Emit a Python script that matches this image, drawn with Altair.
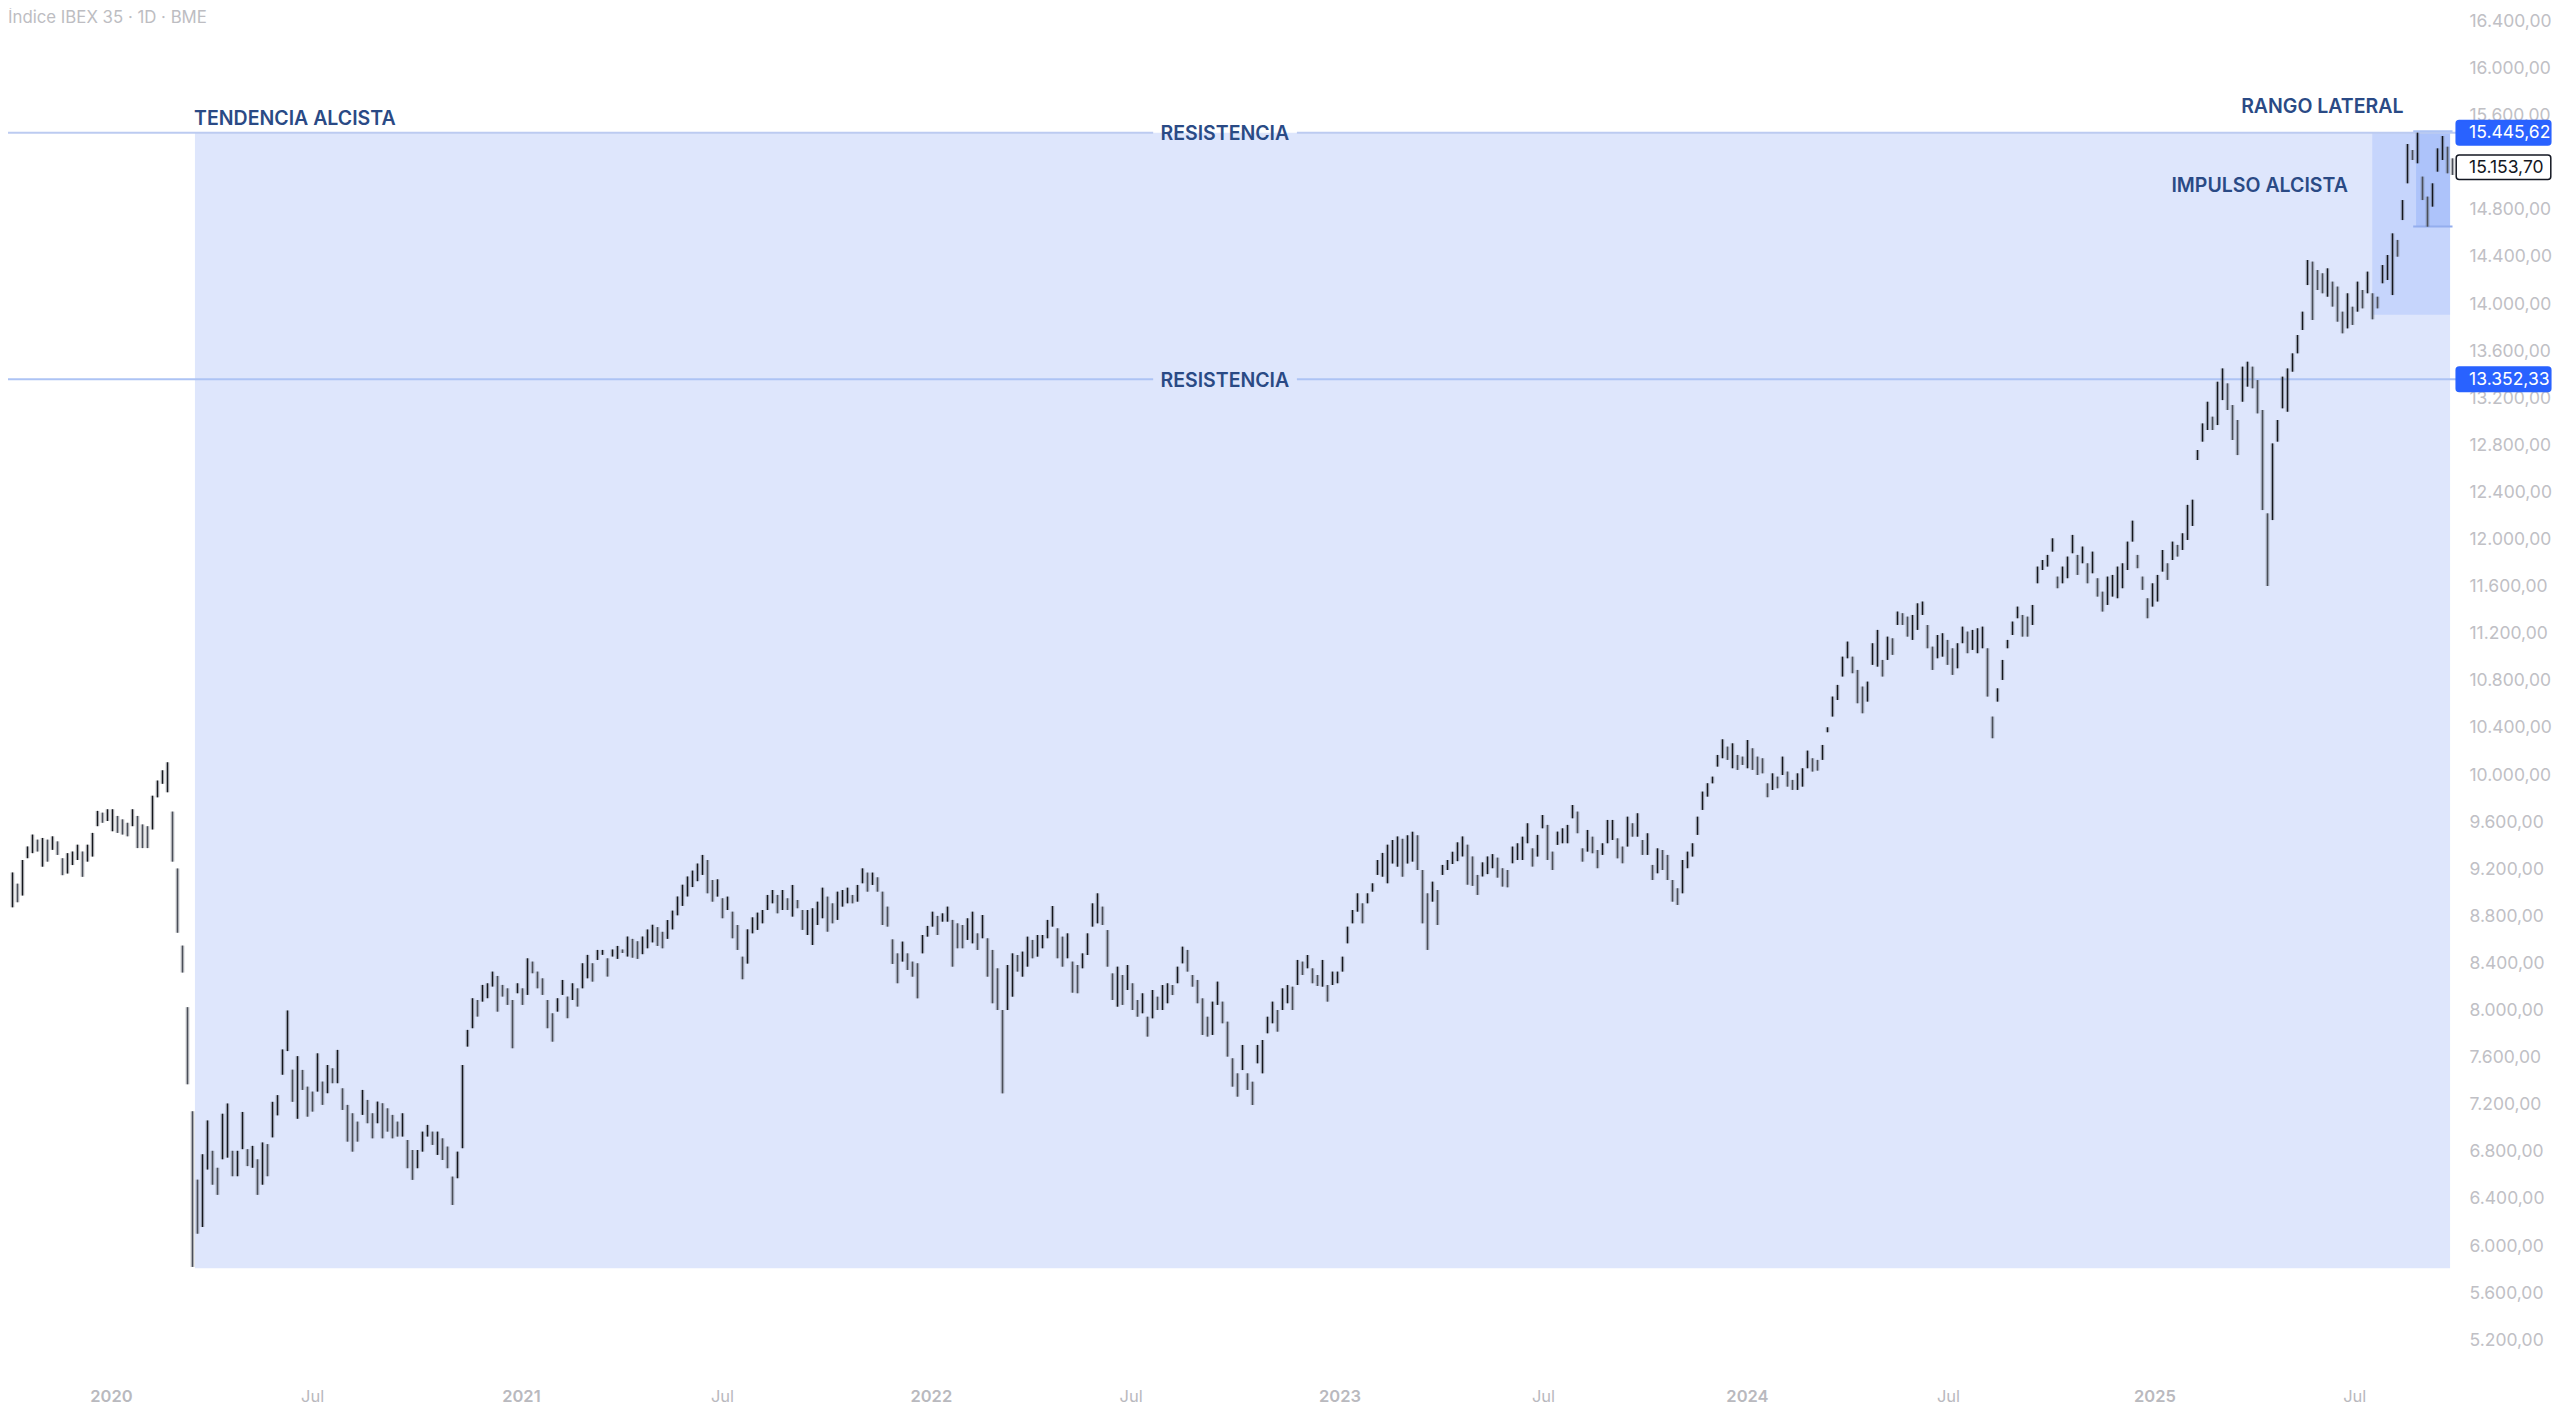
import altair as alt
import pandas as pd

# (high, low), one pair every ~3 sessions
bars_a = [(9164,8868),(9069,8911),(9270,8968),(9385,9285),(9486,9328),(9443,9342),(9457,9213),(9443,9256),
    (9471,9356),(9428,9313),(9285,9141),(9328,9155),(9342,9227),(9400,9270),(9342,9127),(9400,9256),(9500,9299),
    (9687,9557),(9672,9586),(9701,9601),(9701,9514),(9644,9500),(9615,9486),(9586,9471),(9701,9557),(9644,9371),
    (9572,9371),(9557,9371),(9816,9529),(9945,9802),(10032,9917),(10100,9845),(9681,9256),(9198,8652),(8543,8314),
    (8020,7365),(7136,5814),(6555,6096),(6771,6153),(7058,6641),(6800,6512),(6656,6426),(7115,6728),(7202,6742),
    (6800,6584),(6800,6584),(7130,6814),(6814,6670),(6842,6656),(6728,6426),(6871,6512),(6857,6584),(7216,6914),
    (7273,7101),(7661,7446),(7992,7647),(7489,7216),(7604,7072)]
bars_b = [(7487,7317),(7345,7090),(7303,7133),(7628,7303),(7388,7190),(7529,7289),(7501,7374),(7657,7374),
    (7331,7147),(7190,6878),(7119,6793),(7048,6878),(7317,7105),(7232,7034),(7119,6906),(7218,7034),(7204,6906),
    (7161,6963),(7105,6906),(7048,6921),(7119,6921),(6892,6652),(6807,6553),(6807,6652),(6963,6793),(7020,6921),
    (6963,6850),(6963,6765),(6906,6722),(6836,6652),(6581,6340),(6793,6567),(7529,6822),(7827,7685),(8096,7841),
    (8081,7940),(8209,8067),(8223,8096),(8322,8195),(8285,7982),(8209,8110),(8180,8039),(8081,7671),(8223,8138),
    (8180,8039),(8435,8124),(8407,8308),(8322,8180),(8265,8124),(8081,7841),(7968,7727),(8096,7982),(8251,8124),
    (8110,7926),(8223,8081),(8180,8025),(8393,8180),(8464,8265),(8393,8237),(8506,8421),(8506,8464),(8435,8280),
    (8510,8450),(8540,8430),(8510,8480)]
bars_c = [(8620,8450),(8600,8440),(8580,8430),(8620,8470),(8680,8520),(8720,8570),(8700,8540),(8660,8520),
    (8760,8600),(8840,8680),(8960,8800),(9060,8880),(9130,8960),(9180,9040),(9240,9090)]
bars_d = [(9313,9143),(9270,8987),(9100,8916),(9106,8959),(8945,8775),(8959,8845),(8831,8605),(8718,8506),
    (8449,8257),(8681,8390),(8783,8647),(8823,8676),(8845,8732),(8973,8845),(9015,8902),(8973,8817),(9015,8845),
    (8945,8845),(9058,8789),(8930,8860),(8845,8676),(8845,8633),(8860,8548),(8916,8718),(9035,8775),(8959,8661),
    (8902,8732),(9001,8761),(9015,8874),(9035,8902),(8973,8902),(9058,8916),(9199,9072),(9163,9001),(9163,9058),
    (9123,9001),(9001,8718),(8874,8704),(8596,8387),(8477,8223),(8577,8407),(8477,8336),(8407,8279),(8393,8095),
    (8633,8477),(8710,8619),(8831,8704),(8795,8633),(8817,8746),(8874,8746),(8761,8364),(8732,8520),(8718,8520),
    (8775,8591),(8831,8562),(8647,8506),(8803,8605),(8605,8279),(8506,8053),(8350,7996),(7996,7288),(8378,7996),
    (8477,8109),(8463,8322),(8492,8279),(8619,8364),(8591,8435),(8633,8449),(8633,8520),(8761,8605),(8879,8704),
    (8690,8435),(8619,8364),(8647,8435),(8407,8143),(8378,8138),(8477,8350),(8647,8463),(8902,8704),(8987,8732)]
bars_e = [(8874,8718),(8675,8364),(8307,8081),(8364,8024),(8293,8039),(8378,8166),(8223,7996),(8081,7939),
    (8138,7968),(7939,7770),(8166,7925),(8109,7996),(8208,7996),(8223,8053),(8208,8123),(8364,8223),(8534,8392),
    (8506,8322),(8293,8194),(8251,8053),(8095,7784),(7939,7770),(8067,7784),(8237,8039),(8067,7883),(7897,7600),
    (7586,7345),(7458,7260),(7699,7486),(7458,7317),(7387,7189),(7699,7543),(7741,7458),(7939,7798),(8067,7883),
    (7996,7812),(8180,7996),(8208,8053),(8194,7996),(8421,8208),(8407,8293),(8463,8350),(8350,8223),(8293,8200),
    (8421,8194),(8208,8067),(8322,8208),(8322,8223),(8449,8322),(8704,8562),(8845,8732),(8987,8831),(8902,8732),
    (8987,8902),(9072,9001),(9270,9143),(9330,9128),(9400,9072),(9440,9240),(9470,9213),(9450,9128),(9480,9240),
    (9510,9256),(9480,9185),(9185,8732),(8987,8506),(9086,8916),(9015,8718),(9228,9143),(9270,9185),(9340,9236),
    (9420,9260),(9470,9300),(9400,9060),(9300,9050),(9143,8973),(9250,9130),(9300,9150),(9320,9200),(9290,9120)]
bars_f = [(9200,9044),(9185,9038),(9384,9242),(9412,9270),(9468,9270),(9582,9412),(9369,9214),(9483,9299),
    (9652,9539),(9568,9270),(9341,9185),(9511,9398),(9539,9412),(9568,9412),(9737,9624),(9681,9497),(9369,9256),
    (9525,9341),(9468,9327),(9355,9200),(9412,9313),(9610,9412),(9610,9440),(9454,9284),(9384,9242),(9638,9384),
    (9582,9468),(9667,9468),(9440,9313),(9497,9313),(9228,9100),(9369,9157),(9355,9185),(9313,9100),(9100,8916),
    (9030,8888),(9270,8987),(9341,9200),(9412,9299),(9638,9483),(9851,9695),(9922,9808),(9978,9921),(10162,10063),
    (10295,10134),(10233,10120),(10261,10049),(10162,10035),(10148,10077),(10289,10049),(10219,10035),(10148,9992),
    (10134,10006),(9921,9803),(10006,9865),(9978,9879),(10148,9992),(10021,9893),(9950,9865),(10006,9865),
    (10049,9893),(10199,10049),(10134,10021),(10120,10029),(10247,10120)]
bars_g = [(10397,10355),(10658,10488),(10757,10629),(10997,10828),(11125,10983),(10997,10856),(10884,10601),
    (10743,10516),(10785,10615),(11111,10927),(11224,10912),(10969,10828),(11167,10969),(11153,11012),(11380,11266),
    (11366,11266),(11337,11167),(11351,11139),(11450,11224),(11465,11351),(11266,11068),(11082,10884),(11181,10983),
    (11196,10997),(11139,10927),(11068,10842),(11111,10898),(11252,11111),(11210,11026),(11224,11054),(11238,11026),
    (11252,11068),(11068,10658),(10488,10304),(10728,10615),(10969,10799),(11139,11068),(11295,11181),(11422,11323),
    (11351,11167),(11337,11167),(11436,11266),(11762,11620),(11818,11733),(11861,11762),(12002,11889),(11677,11578),
    (11762,11620),(11847,11663),(12031,11875),(11861,11691),(11932,11790),(11790,11620),(11889,11705),(11663,11507),
    (11549,11380),(11677,11436),(11691,11507),(11762,11493),(11790,11578),(11974,11733),(12152,11974),(11861,11748),
    (11677,11564),(11493,11323),(11620,11422),(11691,11465),(11903,11719),(11790,11649),(11974,11818),(11946,11847),
    (12045,11903),(12286,11988),(12330,12107)]
bars_h = [(12752,12667),(12978,12823),(13162,12922),(13035,12922),(13332,12964),(13445,13176),(13318,13092),
    (13134,12837),(13007,12709),(13460,13162),(13502,13290),(13460,13276),(13346,13063),(13092,12242),(12214,11597),
    (12808,12157),(13007,12823),(13375,13106),(13445,13077),(13573,13417),(13729,13573)]
bars_i = [(13927,13771),(14366,14153),(14352,13856),(14281,14111),(14253,14083),(14295,14054),(14182,13970),
    (14140,13842),(13927,13743),(14083,13785),(13969,13814),(14182,13927),(14111,13955),(14267,14083),(14083,13862),
    (14054,13955),(14323,14168),(14408,14196),(14592,14068),(14536,14394),(14875,14705),(15351,15017),(15300,15215),
    (15447,15187),(15074,14875),(14904,14649),(15017,14819),(15314,15116),(15419,15215),(15328,15102),(15229,15088)]

price_ticks = list(range(5200, 16401, 400))
time_ticks = [2020, 2020.491, 2021.001, 2021.492, 2022.002, 2022.49, 2023, 2023.497, 2023.995, 2024.486, 2024.99, 2025.478]

res_top = 15445.62
res_low = 13352.33
last_close = 15153.70

x_dom = [2019.7485, 2025.7265]
y_dom = [4811, 16506]
x_s = alt.Scale(domain=x_dom, nice=False, zero=False)
y_s = alt.Scale(domain=y_dom, nice=False, zero=False)

all_bars = bars_a + bars_b + bars_c + bars_d + bars_e + bars_f + bars_g + bars_h + bars_i
bars = pd.DataFrame(all_bars, columns=['high', 'low'])
# one pair every 5/409.5 of a year, first pair sits just right of the left edge
bars['x'] = 2019.7595 + bars.index * 5 / 409.5
bars['y'] = bars['high']
bars['down'] = bars['high'].diff().fillna(0) < 0

X = alt.X('x:Q', scale=x_s, title=None, axis=alt.Axis(
    values=time_ticks, grid=False, domain=False, ticks=False, labelFont='Inter', labelFontSize=16.5,
    labelColor='#b9b9be', labelPadding=3, labelOverlap=False, labelFlush=False,
    labelFontWeight={'condition': {'test': 'abs(datum.value - round(datum.value)) < 0.1', 'value': 600}, 'value': 400},
    labelExpr="abs(datum.value - round(datum.value)) < 0.1 ? '' + round(datum.value) : 'Jul'"))
Y = alt.Y('y:Q', scale=y_s, title=None, axis=alt.Axis(
    orient='right', values=price_ticks, grid=False, domain=False, ticks=False, labelFont='Inter', labelFontSize=17.5,
    labelColor='#c0c0c5', labelPadding=13, labelAlign='left', labelOffset=1, labelOverlap=False, labelFlush=False,
    labelExpr="replace(format(datum.value, ',.0f'), ',', '.') + ',00'"))


def box(x0, x1, y0, y1, color):
    d = pd.DataFrame({'x': [x0], 'x2': [x1], 'y': [y0], 'y2': [y1]})
    return alt.Chart(d).mark_rect(color=color).encode(x=X, x2='x2', y=Y, y2='y2')


def hline(x0, x1, y, color, width=2):
    d = pd.DataFrame({'x': [x0], 'x2': [x1], 'y': [y]})
    return alt.Chart(d).mark_rule(color=color, strokeWidth=width).encode(x=X, x2='x2', y=Y)


def label(x, y, txt, color='#2a4a85', size=19.5, align='center', weight=600, dy=1.5):
    d = pd.DataFrame({'x': [x], 'y': [y], 't': [txt]})
    return alt.Chart(d).mark_text(color=color, fontSize=size, align=align, baseline='middle', font='Inter',
                                  fontWeight=weight, dy=dy).encode(x=X, y=Y, text='t:N')


def price_tag(y, txt, fill, stroke, color):
    d = pd.DataFrame({'x': [2025.727], 'x2': [2025.958], 'y': [y - 104], 'y2': [y + 104]})
    tag = alt.Chart(d).mark_rect(color=fill, stroke=stroke, strokeWidth=1.5, cornerRadius=3).encode(
        x=X, x2='x2', y=Y, y2='y2')
    return tag + label(2025.7585, y, txt, color=color, size=17.5, align='left', weight=400, dy=0.5)


bg = box(2020.205, 2025.712, 5803, res_top, '#dee6fc')
impulse = box(2025.522, 2025.712, 13900, res_top, '#c6d5fc')
rango = box(2025.629, 2025.712, 14650, res_top, '#adc3fa')

lines = (hline(x_dom[0], 2022.545, res_top, '#bccbf1') + hline(2022.896, 2025.727, res_top, '#bccbf1')
         + hline(x_dom[0], 2022.545, res_low, '#adc3f4') + hline(2022.896, 2025.727, res_low, '#adc3f4')
         + hline(2025.622, 2025.718, 15460, '#adc3f4') + hline(2025.622, 2025.718, 14650, '#94aeee'))

halo = alt.Chart(bars).mark_rule(strokeWidth=3.8, color='#5c6069', opacity=0.35).encode(x=X, y=Y, y2='low:Q')
ohlc = alt.Chart(bars).mark_rule(strokeWidth=1.4).encode(
    x=X, y=Y, y2='low:Q',
    color=alt.condition('datum.down', alt.value('#4a4e58'), alt.value('#14161c')))

notes = (label(2019.7485, 16438, 'Índice IBEX 35 · 1D · BME', color='#bdbdc2', size=16.8, align='left', weight=400)
         + label(2020.203, 15572, 'TENDENCIA ALCISTA', align='left')
         + label(2022.72, res_top, 'RESISTENCIA')
         + label(2022.72, res_low, 'RESISTENCIA')
         + label(2025.40, 15676, 'RANGO LATERAL')
         + label(2025.247, 15003, 'IMPULSO ALCISTA'))

tags = (price_tag(res_top, '15.445,62', '#2962ff', '#2962ff', 'white')
        + price_tag(res_low, '13.352,33', '#2962ff', '#2962ff', 'white')
        + price_tag(last_close, '15.153,70', 'white', '#131722', '#131722'))

# fixed size so the page stays exactly the window's size
chart = (bg + impulse + rango + lines + halo + ohlc + notes + tags).properties(
    width=2448, height=1377, background='white',
    padding={'left': 0, 'top': 0, 'right': 96, 'bottom': 19},
    autosize=alt.AutoSizeParams(type='none')
).configure_view(stroke=None)

chart.save("out.html", embed_options={"renderer": "svg", "actions": False})
